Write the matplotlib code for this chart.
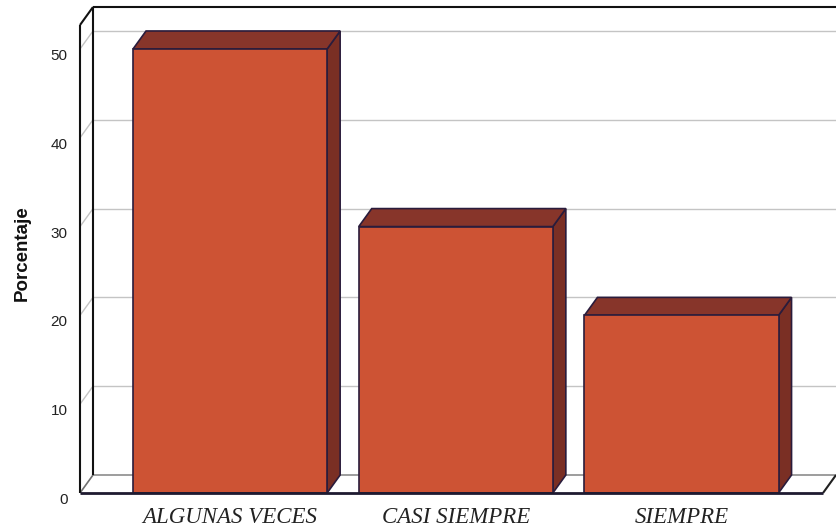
import matplotlib.pyplot as plt
from matplotlib.patches import Rectangle, Polygon
from matplotlib.transforms import ScaledTranslation

# Datos del gráfico
categorias = ['ALGUNAS VECES', 'CASI SIEMPRE', 'SIEMPRE']
porcentajes = [50, 30, 20]
marcas_y = [0, 10, 20, 30, 40, 50]

# Colores estilo SPSS
c_frente = '#CD5334'
c_tapa = '#87352A'
c_lado = '#7A2F24'
c_borde = '#2A1C3C'
c_rejilla = '#C4C4C4'

W, H = 836, 532
fig = plt.figure(figsize=(W / 100, H / 100), dpi=100)

# Plano frontal del gráfico (en píxeles)
izq, der, abajo, arriba = 80, 823, 493, 25
ax = fig.add_axes([izq / W, (H - abajo) / H, (der - izq) / W, (abajo - arriba) / H])

x0, x1 = -0.665, 2.627
y0, y1 = 0, 52.7
ax.set_xlim(x0, x1)
ax.set_ylim(y0, y1)
for s in ax.spines.values():
    s.set_visible(False)
ax.patch.set_visible(False)

# Profundidad del efecto 3D en unidades de datos
prof_px_x, prof_px_y = 13, 18
dx = prof_px_x * (x1 - x0) / (der - izq)
dy = prof_px_y * (y1 - y0) / (abajo - arriba)
xmax_fondo = x1 + 3 * dx


def linea(xs, ys, color, lw=1.0, z=1):
    ax.plot(xs, ys, color=color, lw=lw, clip_on=False, zorder=z, solid_capstyle='butt')


# Rejilla en la pared del fondo y en la pared izquierda
for v in marcas_y[1:]:
    linea([x0 + dx, xmax_fondo], [v + dy, v + dy], c_rejilla, 1.0)
    linea([x0, x0 + dx], [v, v + dy], c_rejilla, 1.0)

# Suelo
linea([x0 + dx, x1 + dx], [dy, dy], '#8C8C8C', 1.2)
linea([x0, x0 + dx], [0, dy], '#707070', 1.2)
linea([x1, x1 + dx], [0, dy], '#202020', 1.5, 2)

# Marco de las paredes
linea([x0 + dx, x0 + dx], [dy, y1 + dy], '#111111', 1.5)
linea([x0 + dx, xmax_fondo], [y1 + dy, y1 + dy], '#111111', 1.5)
linea([x0, x0], [0, y1], '#111111', 1.5)
linea([x0, x0 + dx], [y1, y1 + dy], '#111111', 1.5)

# Barras 3D
ancho = 0.86
for i, v in enumerate(porcentajes):
    a, b = i - ancho / 2, i + ancho / 2
    lado = Polygon([(b, 0), (b + dx, dy), (b + dx, v + dy), (b, v)], closed=True,
                   facecolor=c_lado, edgecolor=c_borde, lw=1.2, clip_on=False, zorder=3)
    tapa = Polygon([(a, v), (a + dx, v + dy), (b + dx, v + dy), (b, v)], closed=True,
                   facecolor=c_tapa, edgecolor=c_borde, lw=1.2, clip_on=False, zorder=3)
    frente = Rectangle((a, 0), ancho, v, facecolor=c_frente, edgecolor=c_borde,
                       lw=1.2, clip_on=False, zorder=4)
    ax.add_patch(lado)
    ax.add_patch(tapa)
    ax.add_patch(frente)

# Línea frontal del suelo
linea([x0, x1], [0, 0], '#1E1A30', 2.0, 5)

# Ejes y etiquetas
ax.set_yticks(marcas_y)
ax.set_yticklabels([str(m) for m in marcas_y], fontsize=11, family='Liberation Sans', color='#222222')
ax.set_xticks(range(len(categorias)))
ax.set_xticklabels(categorias, fontsize=16.5, family='Liberation Serif', style='italic', color='#222222')
ax.tick_params(axis='y', length=0, pad=9)
ax.tick_params(axis='x', length=0, pad=10)
for t in ax.get_yticklabels():
    t.set_transform(t.get_transform() + ScaledTranslation(0, -4 / 72, fig.dpi_scale_trans))

fig.text(22 / W, 1 - 253 / H, 'Porcentaje', rotation=90, ha='center', va='center',
         fontsize=13.5, fontweight='bold', family='Liberation Sans', color='#111111')

fig.savefig('out.png', dpi=100, facecolor='white')
